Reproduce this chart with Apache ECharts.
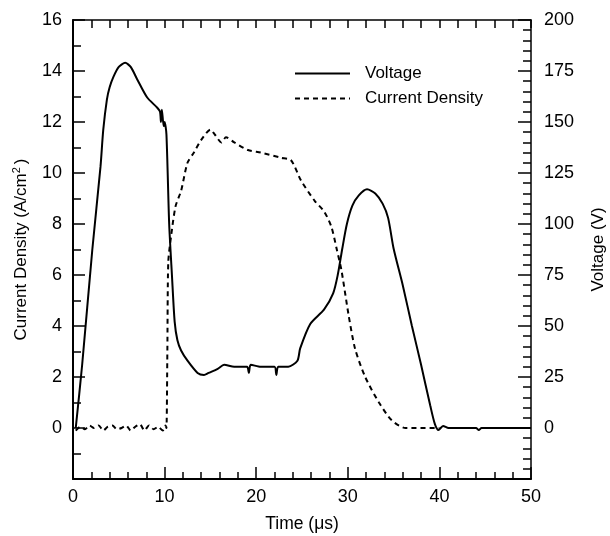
<!DOCTYPE html>
<html>
<head>
<meta charset="utf-8">
<script src="https://cdn.jsdelivr.net/npm/echarts@6/dist/echarts.min.js"></script>
<style>html,body{margin:0;padding:0;background:#fff;}#c{width:610px;height:536px;}</style>
</head>
<body>
<div id="c"></div>
<script>
// Voltage (V) vs time (µs)
var voltageT = [0.3, 1.0, 2.1, 3.0, 3.3, 3.7, 4.0, 4.4, 5.0, 5.7, 6.3, 7.0, 8.1, 9.2, 9.5, 9.6, 9.7, 9.9, 10.0, 10.2, 10.5, 10.8, 11.1, 11.4, 11.8, 12.5, 13.6, 14.3, 14.8, 15.8, 16.5, 17.6, 19.0, 19.2, 19.4, 20.5, 22.0, 22.2, 22.4, 23.5, 24.5, 24.8, 25.9, 27.4, 28.4, 28.9, 29.4, 29.9, 30.5, 31.2, 32.1, 33.0, 33.8, 34.4, 35.0, 36.0, 37.0, 38.0, 39.0, 39.5, 39.9, 40.4, 41.0, 44.0, 44.3, 44.6, 46.5, 50.0];
var voltageV = [0, 31, 87, 128, 146, 161, 167, 172, 177, 179, 177, 171, 162, 157, 155, 150, 156, 148, 150, 144, 100, 75, 52, 43, 38, 33, 27, 26, 27, 29, 31, 30, 30, 27, 31, 30, 30, 26, 30, 30, 33, 39, 51, 58, 66, 75, 88, 100, 109, 114, 117, 115, 110, 103, 88, 70, 50, 31, 11, 2, -1, 1, 0, 0, -1, 0, 0, 0];
// Current density (A/cm^2) vs time (µs)
var currentT = [0.3, 0.8, 1.3, 1.8, 2.3, 2.8, 3.3, 3.8, 4.3, 4.8, 5.3, 5.8, 6.3, 6.8, 7.3, 7.8, 8.3, 8.8, 9.3, 9.8, 10.1, 10.2, 10.3, 10.4, 10.7, 11.2, 11.8, 12.5, 13.2, 14.0, 15.0, 15.5, 16.2, 16.7, 17.6, 19.1, 20.5, 22.7, 23.8, 24.9, 26.4, 27.4, 28.2, 28.8, 29.3, 30.1, 30.8, 31.9, 33.4, 34.8, 36.3, 40.0];
var currentJ = [-0.1, 0.05, -0.05, 0.1, 0, 0.1, -0.1, 0.05, 0.1, -0.05, 0, 0.1, -0.1, 0.05, 0.15, -0.1, 0.1, -0.05, 0.05, -0.1, 0.1, 0, 3.0, 6.5, 7.5, 8.7, 9.3, 10.4, 10.8, 11.3, 11.7, 11.5, 11.2, 11.4, 11.2, 10.9, 10.8, 10.6, 10.5, 9.7, 8.9, 8.5, 7.9, 7.0, 6.2, 4.4, 3.1, 2.0, 1.0, 0.3, 0, 0];
var xTicks = {min: 0, max: 50, step: 10};
var leftTicks = {min: -2, max: 16, step: 2};
var rightTicks = {min: -25, max: 200, step: 25};

function pairs(a, b) { return a.map(function (v, i) { return [v, b[i]]; }); }

var FONT = "'Liberation Sans', Arial, Helvetica, sans-serif";
var chart = echarts.init(document.getElementById('c'), null, {renderer: 'canvas'});
chart.setOption({
  animation: false,
  backgroundColor: '#fff',
  textStyle: {fontFamily: FONT, color: '#000'},
  grid: {left: 73, right: 79, top: 20, bottom: 57, containLabel: false, outerBoundsMode: 'none'},
  legend: {
    data: ['Voltage', 'Current Density'],
    orient: 'vertical',
    left: 289, top: 60,
    itemWidth: 55, itemHeight: 14, itemGap: 8,
    itemStyle: {opacity: 0},
    textStyle: {fontSize: 17, color: '#000', fontFamily: FONT, padding: [0, 0, 0, 10]}
  },
  xAxis: [{
    type: 'value', position: 'bottom',
    min: xTicks.min, max: xTicks.max, interval: xTicks.step,
    axisLine: {onZero: false, lineStyle: {color: '#000', width: 2}},
    axisTick: {inside: true, length: 12, lineStyle: {color: '#000', width: 1.5}},
    minorTick: {show: true, splitNumber: 5, length: 7, lineStyle: {color: '#000', width: 1.5}},
    splitLine: {show: false},
    axisLabel: {fontSize: 18, color: '#000', margin: 9, fontFamily: FONT},
    name: 'Time (μs)', nameLocation: 'middle', nameGap: 36,
    nameTextStyle: {fontSize: 17.5, color: '#000', fontFamily: FONT}
  }, {
    type: 'value', position: 'top',
    min: xTicks.min, max: xTicks.max, interval: 2,
    axisLine: {onZero: false, lineStyle: {color: '#000', width: 1.5}},
    axisTick: {inside: true, length: 8, lineStyle: {color: '#000', width: 1.5}},
    axisLabel: {show: false},
    splitLine: {show: false}
  }],
  yAxis: [{
    type: 'value', position: 'left',
    min: leftTicks.min, max: leftTicks.max, interval: leftTicks.step,
    axisLine: {show: true, onZero: false, lineStyle: {color: '#000', width: 2}},
    axisTick: {show: true, inside: true, length: 12, lineStyle: {color: '#000', width: 1.5}},
    minorTick: {show: true, splitNumber: 2, length: 8, lineStyle: {color: '#000', width: 1.5}},
    splitLine: {show: false},
    axisLabel: {fontSize: 18, color: '#000', margin: 11, fontFamily: FONT,
      formatter: function (v) { return v < 0 ? '' : String(v); }},
    name: 'Current Density (A/cm{sup|2})', nameLocation: 'middle', nameGap: 42,
    nameTextStyle: {fontSize: 17, color: '#000', fontFamily: FONT,
      rich: {sup: {fontSize: 11, fontFamily: FONT, color: '#000', padding: [0, 3, 9, 0]}}}
  }, {
    type: 'value', position: 'right',
    min: rightTicks.min, max: rightTicks.max, interval: rightTicks.step,
    axisLine: {show: true, onZero: false, lineStyle: {color: '#000', width: 1.5}},
    axisTick: {show: true, inside: true, length: 13, lineStyle: {color: '#000', width: 1.5}},
    minorTick: {show: true, splitNumber: 5, length: 8, lineStyle: {color: '#000', width: 1.5}},
    splitLine: {show: false},
    axisLabel: {fontSize: 18, color: '#000', margin: 13, fontFamily: FONT,
      formatter: function (v) { return v < 0 ? '' : String(v); }},
    name: 'Voltage (V)', nameLocation: 'middle', nameGap: 59,
    nameTextStyle: {fontSize: 17, color: '#000', fontFamily: FONT}
  }],
  series: [{
    name: 'Voltage', type: 'line', xAxisIndex: 0, yAxisIndex: 1,
    symbol: 'none', smooth: 0.25, color: '#000',
    lineStyle: {color: '#000', width: 2},
    data: pairs(voltageT, voltageV)
  }, {
    name: 'Current Density', type: 'line', xAxisIndex: 0, yAxisIndex: 0,
    symbol: 'none', smooth: 0.25, color: '#000',
    lineStyle: {color: '#000', width: 2, type: [5, 4]},
    data: pairs(currentT, currentJ)
  }]
});
</script>
</body>
</html>
